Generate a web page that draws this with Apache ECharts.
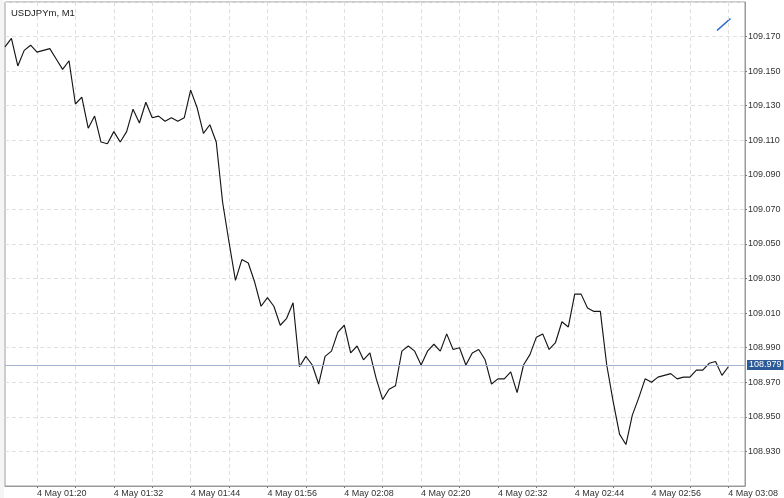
<!DOCTYPE html>
<html>
<head>
<meta charset="utf-8">
<script src="https://cdn.jsdelivr.net/npm/echarts@6/dist/echarts.min.js"></script>
<style>
html,body{margin:0;padding:0;background:#fff;}
#chart{width:784px;height:498px;}
</style>
</head>
<body>
<div id="chart"></div>
<script>
// Data: USDJPYm 1-minute closes, first bar at 4 May 01:15
const startTime = '01:15';
const prices = [
  109.164,109.169,109.153,109.162,109.165,109.161,109.162,109.163,109.157,109.151,
  109.156,109.131,109.135,109.117,109.124,109.109,109.108,109.115,109.109,109.115,
  109.128,109.120,109.132,109.123,109.124,109.121,109.123,109.121,109.123,109.139,
  109.129,109.114,109.119,109.109,109.074,109.051,109.029,109.041,109.039,109.028,
  109.014,109.019,109.014,109.003,109.007,109.016,108.979,108.985,108.980,108.969,
  108.985,108.988,108.999,109.003,108.987,108.991,108.983,108.987,108.972,108.960,
  108.966,108.968,108.988,108.991,108.988,108.980,108.988,108.992,108.988,108.998,
  108.989,108.990,108.980,108.987,108.989,108.983,108.969,108.972,108.972,108.976,
  108.964,108.980,108.986,108.996,108.998,108.989,108.993,109.005,109.002,109.021,
  109.021,109.013,109.011,109.011,108.980,108.959,108.940,108.934,108.951,108.961,
  108.972,108.970,108.973,108.974,108.975,108.972,108.973,108.973,108.977,108.977,
  108.981,108.982,108.974,108.979
];
const lastPrice = 108.979;
const xTickLabels = ['01:20','01:32','01:44','01:56','02:08','02:20','02:32','02:44','02:56','03:08'];
const xGridTimes = ['01:20','01:26','01:32','01:38','01:44','01:50','01:56','02:02','02:08','02:14','02:20','02:26','02:32','02:38','02:44','02:50','02:56','03:02','03:08'];
const yMin = 108.91, yMax = 109.19, yStep = 0.02;
const axisStart = '01:15', axisEnd = '03:10.6';
const titleText = 'USDJPYm, M1';
const datePrefix = '4 May ';

function toMin(s){ const p = s.split(':'); return parseInt(p[0],10)*60 + parseFloat(p[1]); }
function fmt(m){ const h = Math.floor(m/60), mm = Math.round(m%60); return datePrefix + String(h).padStart(2,'0') + ':' + String(mm).padStart(2,'0'); }

const t0 = toMin(startTime);
const seriesData = prices.map((p, i) => [t0 + i, p]);

const FONT = '"Liberation Sans", Arial, Helvetica, sans-serif';
const chart = echarts.init(document.getElementById('chart'), null, {renderer: 'canvas'});
chart.setOption({
  animation: false,
  backgroundColor: '#ffffff',
  textStyle: {fontFamily: FONT},
  title: {
    text: titleText, left: 6, top: 3,
    textStyle: {fontSize: 9.5, fontWeight: 'normal', color: '#222', fontFamily: FONT}
  },
  grid: {left: 5, top: 2, width: 740, height: 484, show: true, borderColor: '#9a9a9a', borderWidth: 1, backgroundColor: 'transparent'},
  xAxis: {
    type: 'value',
    min: toMin(axisStart), max: toMin(axisEnd),
    axisLine: {show: true, lineStyle: {color: '#9a9a9a'}},
    axisTick: {show: true, length: 2, lineStyle: {color: '#777'}, customValues: xGridTimes.map(toMin)},
    axisLabel: {
      customValues: xTickLabels.map(toMin),
      formatter: v => fmt(v),
      align: 'left', margin: 3, fontSize: 9, color: '#333', fontFamily: FONT
    },
    splitLine: {show: true, lineStyle: {color: '#e0e0e0', type: [4, 3], width: 1}}
  },
  yAxis: {
    type: 'value', position: 'right',
    min: yMin, max: yMax, interval: yStep, scale: true,
    axisLine: {show: true, lineStyle: {color: '#9a9a9a'}},
    axisTick: {show: true, length: 2, lineStyle: {color: '#777'}},
    axisLabel: {
      formatter: v => Number(v).toFixed(3),
      showMinLabel: false, showMaxLabel: false,
      margin: 3, fontSize: 9, color: '#333', fontFamily: FONT
    },
    splitLine: {show: true, lineStyle: {color: '#e0e0e0', type: [4, 3], width: 1}}
  },
  series: [{
    type: 'line',
    data: seriesData,
    showSymbol: false,
    symbol: 'none',
    lineStyle: {color: '#161616', width: 1.15},
    markLine: {
      silent: true,
      symbol: ['none', 'none'],
      animation: false,
      lineStyle: {color: '#a3b2d0', type: 'solid', width: 1},
      label: {
        show: true, position: 'end', distance: 2,
        formatter: () => lastPrice.toFixed(3),
        backgroundColor: '#2d5b97', color: '#fff',
        padding: [1, 2, 0, 2], fontSize: 9, fontFamily: FONT
      },
      data: [{yAxis: lastPrice}]
    }
  }],
  graphic: [
    {type: 'rect', left: 0, top: 0, shape: {width: 4, height: 498}, style: {fill: '#f5f5f5'}, z: -1},
    {type: 'line', shape: {x1: 717, y1: 30.5, x2: 730.5, y2: 18.5}, style: {stroke: '#2a68cf', lineWidth: 1.6}}
  ]
});
</script>
</body>
</html>
